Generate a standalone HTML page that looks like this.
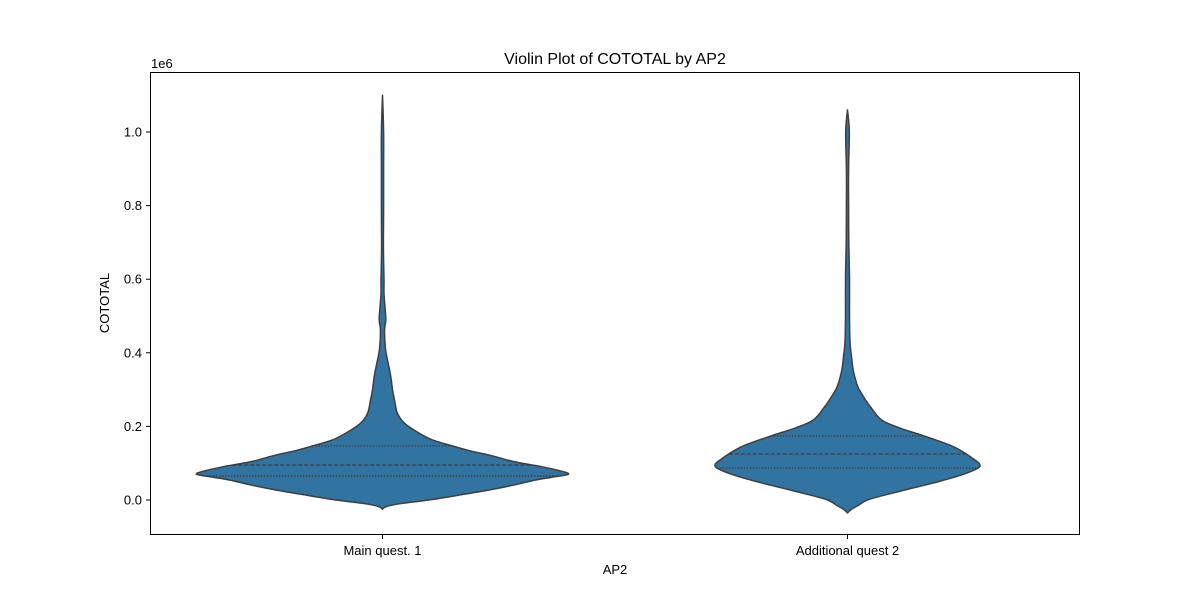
<!DOCTYPE html>
<html><head><meta charset="utf-8"><style>
body{margin:0;background:#fff;}
svg text{font-family:"Liberation Sans","DejaVu Sans",sans-serif;fill:#000;}
</style></head><body>
<svg id="chart" width="1200" height="600" viewBox="0 0 1200 600" xmlns="http://www.w3.org/2000/svg">
<rect width="1200" height="600" fill="#fff"/>
<g id="plot"></g>
<rect x="150.5" y="72.5" width="929" height="462" fill="none" stroke="#000" stroke-width="1"/>
<g id="yaxis"></g>
<g id="xaxis"></g>
<text x="615" y="64" font-size="16" text-anchor="middle">Violin Plot of COTOTAL by AP2</text>
<text x="151" y="68" font-size="13">1e6</text>
<text x="0" y="0" font-size="13" text-anchor="middle" transform="translate(109,303) rotate(-90)">COTOTAL</text>
<text x="615" y="574" font-size="13" text-anchor="middle">AP2</text>
</svg>
<script>
const categories = ["Main quest. 1", "Additional quest 2"];
const yTicks = [0.0, 0.2, 0.4, 0.6, 0.8, 1.0];
// density profiles: values (1e6) and relative density (0..1)
const v1Values = [-0.025,-0.018,-0.01,0,0.014,0.027,0.04,0.054,0.062,0.07,0.08,0.092,0.105,0.12,0.135,0.147,0.165,0.19,0.21,0.236,0.27,0.3,0.34,0.38,0.41,0.46,0.49,0.52,0.56,0.6,0.65,0.7,0.8,0.9,1.0,1.1];
const v1Density = [0,0.02,0.09,0.25,0.42,0.57,0.7,0.82,0.91,1,0.95,0.84,0.7,0.59,0.46,0.376,0.26,0.17,0.115,0.08,0.065,0.054,0.043,0.027,0.016,0.011,0.018,0.014,0.008,0.008,0.006,0.005,0.006,0.006,0.006,0];
const v2Values = [-0.035,-0.025,-0.015,0,0.014,0.027,0.04,0.054,0.07,0.087,0.098,0.11,0.125,0.147,0.174,0.195,0.217,0.25,0.285,0.31,0.35,0.39,0.43,0.5,0.6,0.7,0.8,0.9,1.0,1.06];
const v2Density = [0,0.03,0.08,0.15,0.29,0.43,0.58,0.73,0.88,0.99,1,0.96,0.9,0.79,0.58,0.4,0.26,0.18,0.114,0.076,0.045,0.03,0.019,0.015,0.015,0.01,0.008,0.008,0.014,0];
const quartiles1 = [0.065, 0.095, 0.147];
const quartiles2 = [0.087, 0.125, 0.174];
const maxHalfWidths = [186, 132];

const NS = "http://www.w3.org/2000/svg";
const plotL = 150, plotR = 1080;
function yScale(v){ return 500 - v*368; }
function xScale(i){ return plotL + (plotR-plotL)*(i+0.5)/categories.length; }
function halfAt(vals, dens, v, maxW){
  for(let k=0;k<vals.length-1;k++){
    if(v>=vals[k] && v<=vals[k+1]){
      const t=(v-vals[k])/(vals[k+1]-vals[k]);
      return (dens[k]+(dens[k+1]-dens[k])*t)*maxW;
    }
  }
  return 0;
}
function smoothPath(pts){
  let d = `M${pts[0][0].toFixed(1)},${pts[0][1].toFixed(1)}`;
  for(let i=0;i<pts.length-1;i++){
    const p0=pts[Math.max(0,i-1)], p1=pts[i], p2=pts[i+1], p3=pts[Math.min(pts.length-1,i+2)];
    const c1=[p1[0]+(p2[0]-p0[0])/6, p1[1]+(p2[1]-p0[1])/6];
    const c2=[p2[0]-(p3[0]-p1[0])/6, p2[1]-(p3[1]-p1[1])/6];
    d += ` C${c1[0].toFixed(1)},${c1[1].toFixed(1)} ${c2[0].toFixed(1)},${c2[1].toFixed(1)} ${p2[0].toFixed(1)},${p2[1].toFixed(1)}`;
  }
  return d;
}
const plot = document.getElementById("plot");
const sets = [[v1Values,v1Density,quartiles1],[v2Values,v2Density,quartiles2]];
sets.forEach((s,i)=>{
  const [vals,dens,q] = s, cx = xScale(i), mw = maxHalfWidths[i];
  const right = vals.map((v,k)=>[cx+dens[k]*mw, yScale(v)]);
  const left = vals.map((v,k)=>[cx-dens[k]*mw, yScale(v)]).reverse();
  const d = smoothPath(right) + " " + smoothPath(left).replace(/^M/,"L") + " Z";
  const p = document.createElementNS(NS,"path");
  p.setAttribute("d", d);
  p.setAttribute("fill","#3274a1");
  p.setAttribute("stroke","#3f3f3f");
  p.setAttribute("stroke-width","1.5");
  p.setAttribute("stroke-linejoin","round");
  
  
  plot.appendChild(p);
  q.forEach((qv,j)=>{
    const hw = halfAt(vals,dens,qv,mw);
    const l = document.createElementNS(NS,"line");
    l.setAttribute("x1",cx-hw); l.setAttribute("x2",cx+hw);
    l.setAttribute("y1",yScale(qv)); l.setAttribute("y2",yScale(qv));
    l.setAttribute("stroke","#3f3f3f"); l.setAttribute("stroke-width","1.3");
    l.setAttribute("stroke-dasharray", j===1 ? "4,2" : "1.5,1.5");
    
    
    plot.appendChild(l);
  });
});
const ya = document.getElementById("yaxis");
yTicks.forEach(t=>{
  const y = yScale(t);
  const tk = document.createElementNS(NS,"line");
  tk.setAttribute("x1",146); tk.setAttribute("x2",150); tk.setAttribute("y1",y); tk.setAttribute("y2",y);
  tk.setAttribute("stroke","#000");
  
  
  ya.appendChild(tk);
  const tx = document.createElementNS(NS,"text");
  tx.setAttribute("x",142); tx.setAttribute("y",y+4.5); tx.setAttribute("font-size","13"); tx.setAttribute("text-anchor","end");
  tx.textContent = t.toFixed(1);
  
  
  ya.appendChild(tx);
});
const xa = document.getElementById("xaxis");
categories.forEach((c,i)=>{
  const x = xScale(i);
  const tk = document.createElementNS(NS,"line");
  tk.setAttribute("x1",x); tk.setAttribute("x2",x); tk.setAttribute("y1",535); tk.setAttribute("y2",539);
  tk.setAttribute("stroke","#000");
  
  
  xa.appendChild(tk);
  const tx = document.createElementNS(NS,"text");
  tx.setAttribute("x",x); tx.setAttribute("y",555); tx.setAttribute("font-size","13"); tx.setAttribute("text-anchor","middle");
  tx.textContent = c;
  
  
  xa.appendChild(tx);
});
</script>
</body></html>
